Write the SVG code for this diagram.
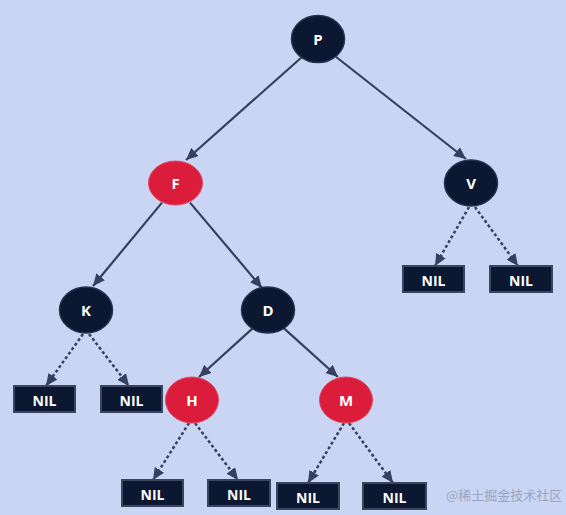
<svg xmlns="http://www.w3.org/2000/svg" width="566" height="515" viewBox="0 0 566 515">
<style>
.bg{fill:#c9d5f3}
.blk{fill:#0c1731;stroke:#26314d;stroke-width:1.5}
.red{fill:#dc1c3b;stroke:#e0485e;stroke-width:1}
.nil{fill:#0c1731;stroke:#3a4560;stroke-width:2}
.lbl{font-family:"Open Sans","Liberation Sans",sans-serif;font-weight:bold;font-size:15px;fill:#ffffff;text-anchor:middle;dominant-baseline:central}
.nl{font-family:"Open Sans","Liberation Sans",sans-serif;font-weight:bold;font-size:14px;fill:#ffffff;text-anchor:middle;dominant-baseline:central}
.e{stroke:#34405c;stroke-width:2.2;fill:none;marker-end:url(#ah)}
.d{stroke:#34405c;stroke-width:2.5;stroke-dasharray:3 2.5;fill:none;marker-end:url(#ah)}
.wm{font-family:"Noto Sans CJK SC",sans-serif;font-size:13px;fill:#9aa5bf}
</style>
<defs>
<marker id="ah" viewBox="0 0 12 11" refX="12" refY="5.5" markerWidth="12" markerHeight="11" markerUnits="userSpaceOnUse" orient="auto">
<path d="M0,0 L12,5.5 L0,11 z" fill="#34405c"/>
</marker>
</defs>
<rect class="bg" x="0" y="0" width="566" height="515"/>
<g id="connectors">
<line class="e" x1="302" y1="57" x2="186" y2="160"/>
<line class="e" x1="336.2" y1="57" x2="466" y2="159"/>
<line class="e" x1="162" y1="202.6" x2="93" y2="286"/>
<line class="e" x1="190" y1="202.6" x2="262" y2="288"/>
<line class="e" x1="252.3" y1="328.6" x2="199" y2="377"/>
<line class="e" x1="284" y1="328.4" x2="338" y2="377"/>
<line class="d" x1="83" y1="334" x2="46" y2="386"/>
<line class="d" x1="89" y1="334" x2="129" y2="386"/>
<line class="d" x1="469" y1="207" x2="435" y2="266"/>
<line class="d" x1="475" y1="207" x2="518" y2="266"/>
<line class="d" x1="189" y1="423" x2="153" y2="480"/>
<line class="d" x1="195" y1="423" x2="238" y2="480"/>
<line class="d" x1="344" y1="423" x2="308" y2="483"/>
<line class="d" x1="349" y1="423" x2="393" y2="483"/>
</g>
<g id="node-P"><ellipse class="blk" cx="318" cy="39" rx="26.5" ry="23.5"/><text class="lbl" x="318" y="39">P</text></g>
<g id="node-F"><ellipse class="red" cx="175.5" cy="183" rx="27" ry="22"/><text class="lbl" x="175.5" y="183">F</text></g>
<g id="node-V"><ellipse class="blk" cx="471" cy="183" rx="26.5" ry="23"/><text class="lbl" x="471" y="183">V</text></g>
<g id="node-K"><ellipse class="blk" cx="86" cy="310" rx="26.5" ry="23"/><text class="lbl" x="86" y="310">K</text></g>
<g id="node-D"><ellipse class="blk" cx="268" cy="310" rx="26.5" ry="23"/><text class="lbl" x="268" y="310">D</text></g>
<g id="node-H"><ellipse class="red" cx="192" cy="400" rx="26.5" ry="23"/><text class="lbl" x="192" y="400">H</text></g>
<g id="node-M"><ellipse class="red" cx="346" cy="400" rx="26.5" ry="23"/><text class="lbl" x="346" y="400">M</text></g>
<g id="nil-K-L"><rect class="nil" x="14" y="386" width="61" height="26"/><text class="nl" x="44.5" y="400">NIL</text></g>
<g id="nil-K-R"><rect class="nil" x="101" y="386" width="61" height="26"/><text class="nl" x="131.5" y="400">NIL</text></g>
<g id="nil-V-L"><rect class="nil" x="403" y="266" width="61" height="26"/><text class="nl" x="433.5" y="280">NIL</text></g>
<g id="nil-V-R"><rect class="nil" x="490" y="266" width="62" height="26"/><text class="nl" x="521" y="280">NIL</text></g>
<g id="nil-H-L"><rect class="nil" x="122" y="480" width="61" height="26"/><text class="nl" x="152.5" y="494">NIL</text></g>
<g id="nil-H-R"><rect class="nil" x="208" y="480" width="62" height="26"/><text class="nl" x="239" y="494">NIL</text></g>
<g id="nil-M-L"><rect class="nil" x="277" y="483" width="62" height="26"/><text class="nl" x="308" y="497">NIL</text></g>
<g id="nil-M-R"><rect class="nil" x="363" y="483" width="63" height="26"/><text class="nl" x="394.5" y="497">NIL</text></g>
<text class="wm" x="446" y="500">@稀土掘金技术社区</text>
</svg>
